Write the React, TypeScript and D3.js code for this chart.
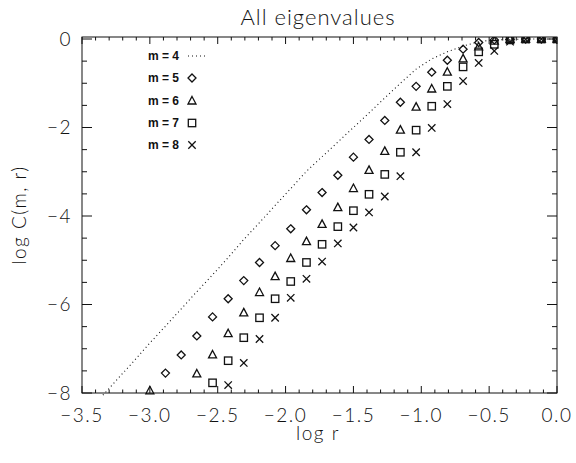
import React from "react";
import * as d3 from "d3";

// log r grid (shared by all series)
const logR = [
  -3.346, -3.231, -3.115, -3.0, -2.885, -2.769, -2.654, -2.538, -2.423, -2.308,
  -2.192, -2.077, -1.962, -1.846, -1.731, -1.615, -1.5, -1.385, -1.269, -1.154,
  -1.038, -0.923, -0.808, -0.692, -0.577, -0.462, -0.346, -0.231, -0.115, 0.0,
];

// log C(m, r) per embedding dimension m (null = no point)
const m4 = [
  -8.05, -7.66, -7.27, -6.87, -6.49, -6.1, -5.71, -5.33, -4.94, -4.53,
  -4.15, -3.76, -3.38, -2.99, -2.66, -2.33, -2.0, -1.67, -1.33, -1.0,
  -0.68, -0.45, -0.29, -0.16, -0.06, -0.02, -0.01, 0, 0, 0,
];
const m5 = [
  null, null, null, null, -7.55, -7.14, -6.71, -6.28, -5.87, -5.46,
  -5.05, -4.67, -4.29, -3.86, -3.47, -3.08, -2.67, -2.27, -1.84, -1.43,
  -1.07, -0.75, -0.48, -0.23, -0.08, -0.02, -0.01, 0, 0, 0,
];
const m6 = [
  null, null, null, -7.95, null, null, -7.57, -7.14, -6.66, -6.19,
  -5.73, -5.37, -4.96, -4.58, -4.19, -3.81, -3.38, -2.97, -2.54, -2.06,
  -1.54, -1.13, -0.75, -0.45, -0.18, -0.05, -0.01, 0, 0, 0,
];
const m7 = [
  null, null, null, null, null, null, null, -7.77, -7.27, -6.75,
  -6.3, -5.87, -5.48, -5.05, -4.64, -4.24, -3.88, -3.51, -3.06, -2.56,
  -2.06, -1.52, -1.07, -0.63, -0.29, -0.12, -0.02, 0, 0, 0,
];
const m8 = [
  null, null, null, null, null, null, null, null, -7.82, -7.32,
  -6.78, -6.3, -5.85, -5.42, -5.03, -4.62, -4.26, -3.92, -3.56, -3.1,
  -2.56, -2.01, -1.47, -0.95, -0.54, -0.27, -0.06, -0.01, 0, 0,
];

const xMajorTicks = [-3.5, -3.0, -2.5, -2.0, -1.5, -1.0, -0.5, 0.0];
const yMajorTicks = [-8, -6, -4, -2, 0];
const legendLabels = ["m = 4", "m = 5", "m = 6", "m = 7", "m = 8"];
const title = "All eigenvalues";
const xTitle = "log r";
const yTitle = "log C(m, r)";

const FONT = "Lato, 'DejaVu Sans', sans-serif";
const INK = "#111";

function Marker({ kind, cx, cy }: { kind: string; cx: number; cy: number }) {
  const sw = 1.3;
  if (kind === "diamond")
    return (
      <path
        d={`M${cx},${cy - 4}L${cx + 4},${cy}L${cx},${cy + 4}L${cx - 4},${cy}Z`}
        fill="none"
        stroke={INK}
        strokeWidth={sw}
      />
    );
  if (kind === "triangle")
    return (
      <path
        d={`M${cx},${cy - 4.5}L${cx + 4},${cy + 3}L${cx - 4},${cy + 3}Z`}
        fill="none"
        stroke={INK}
        strokeWidth={sw}
      />
    );
  if (kind === "square")
    return (
      <rect x={cx - 3.7} y={cy - 3.7} width={7.4} height={7.4} fill="none" stroke={INK} strokeWidth={sw} />
    );
  return (
    <path
      d={`M${cx - 3.7},${cy - 3.7}L${cx + 3.7},${cy + 3.7}M${cx - 3.7},${cy + 3.7}L${cx + 3.7},${cy - 3.7}`}
      fill="none"
      stroke={INK}
      strokeWidth={sw}
    />
  );
}

export default function App() {
  const W = 576;
  const H = 463;
  const L = 82;
  const R = 557;
  const T = 37;
  const B = 393;

  const x = d3.scaleLinear().domain([-3.5, 0]).range([L, R]);
  const y = d3.scaleLinear().domain([-8, 0]).range([B, 39]);

  const fmtX = d3.format(".1f");
  const fmtY = d3.format("d");

  const xMinor = d3.range(-3.5, 0.0001, 0.1).filter((v) => !xMajorTicks.some((m) => Math.abs(m - v) < 1e-6));
  const yMinor = d3.range(-8, 0.0001, 0.5).filter((v) => !yMajorTicks.some((m) => Math.abs(m - v) < 1e-6));

  const line = d3
    .line<number>()
    .defined((d, i) => m4[i] !== null)
    .x((_, i) => x(logR[i]))
    .y((d) => y(d as number));

  const series: { kind: string; vals: (number | null)[] }[] = [
    { kind: "diamond", vals: m5 },
    { kind: "triangle", vals: m6 },
    { kind: "square", vals: m7 },
    { kind: "cross", vals: m8 },
  ];

  const xMajLen = 7;
  const xMinLen = 3.5;
  const yMajLen = 10;
  const yMinLen = 5;

  const legendY = [56, 78, 101, 123, 145];

  return (
    <svg
      width={W}
      height={H}
      style={{ position: "absolute", left: 0, top: 0, background: "#fff" }}
      fontFamily={FONT}
    >
      <defs>
        <clipPath id="plotclip">
          <rect x={L} y={T} width={R - L} height={B - T + 6} />
        </clipPath>
      </defs>

      {/* title */}
      <text x={318} y={25} textAnchor="middle" fontSize={22} fontWeight={300} fill={INK} letterSpacing={1}>
        {title}
      </text>

      {/* frame */}
      <rect x={L} y={T} width={R - L} height={B - T} fill="none" stroke={INK} strokeWidth={1} />

      {/* x ticks bottom & top */}
      {xMajorTicks.map((v) => (
        <g key={"xm" + v}>
          <line x1={x(v)} x2={x(v)} y1={B} y2={B - xMajLen} stroke={INK} strokeWidth={1} />
          <line x1={x(v)} x2={x(v)} y1={T} y2={T + xMajLen} stroke={INK} strokeWidth={1} />
          <text x={x(v)} y={422} textAnchor="middle" fontSize={19} fontWeight={300} fill={INK} letterSpacing={1.5}>
            {fmtX(v)}
          </text>
        </g>
      ))}
      {xMinor.map((v, i) => (
        <g key={"xn" + i}>
          <line x1={x(v)} x2={x(v)} y1={B} y2={B - xMinLen} stroke={INK} strokeWidth={1} />
          <line x1={x(v)} x2={x(v)} y1={T} y2={T + xMinLen} stroke={INK} strokeWidth={1} />
        </g>
      ))}

      {/* y ticks left & right */}
      {yMajorTicks.map((v) => (
        <g key={"ym" + v}>
          <line x1={L} x2={L + yMajLen} y1={y(v)} y2={y(v)} stroke={INK} strokeWidth={1} />
          <line x1={R} x2={R - yMajLen} y1={y(v)} y2={y(v)} stroke={INK} strokeWidth={1} />
          <text
            x={72}
            y={y(v)}
            dy="0.36em"
            textAnchor="end"
            fontSize={19}
            fontWeight={300}
            fill={INK}
            letterSpacing={1.5}
          >
            {fmtY(v)}
          </text>
        </g>
      ))}
      {yMinor.map((v, i) => (
        <g key={"yn" + i}>
          <line x1={L} x2={L + yMinLen} y1={y(v)} y2={y(v)} stroke={INK} strokeWidth={1} />
          <line x1={R} x2={R - yMinLen} y1={y(v)} y2={y(v)} stroke={INK} strokeWidth={1} />
        </g>
      ))}

      {/* axis titles */}
      <text x={318} y={440} textAnchor="middle" fontSize={19} fontWeight={300} fill={INK} letterSpacing={1.5}>
        {xTitle}
      </text>
      <text
        transform={`translate(26, 215) rotate(-90)`}
        textAnchor="middle"
        fontSize={19}
        fontWeight={300}
        fill={INK}
        letterSpacing={1.5}
      >
        {yTitle}
      </text>

      {/* data */}
      <g clipPath="url(#plotclip)">
        <path d={line(m4 as number[]) || ""} fill="none" stroke={INK} strokeWidth={1.1} strokeDasharray="1 3" />
        {series.map((s) =>
          s.vals.map((v, i) =>
            v === null ? null : <Marker key={s.kind + i} kind={s.kind} cx={x(logR[i])} cy={y(v)} />
          )
        )}
      </g>

      {/* legend */}
      {legendLabels.map((lab, i) => (
        <g key={lab}>
          <text
            x={148}
            y={legendY[i]}
            dy="0.36em"
            fontSize={12}
            fontWeight={700}
            fontFamily="'Liberation Sans', Arial, sans-serif"
            fill={INK}
          >
            {lab}
          </text>
          {i === 0 ? (
            <line x1={188} x2={205} y1={legendY[i]} y2={legendY[i]} stroke={INK} strokeWidth={1.1} strokeDasharray="1 3" />
          ) : (
            <Marker kind={series[i - 1].kind} cx={192} cy={legendY[i]} />
          )}
        </g>
      ))}
    </svg>
  );
}
